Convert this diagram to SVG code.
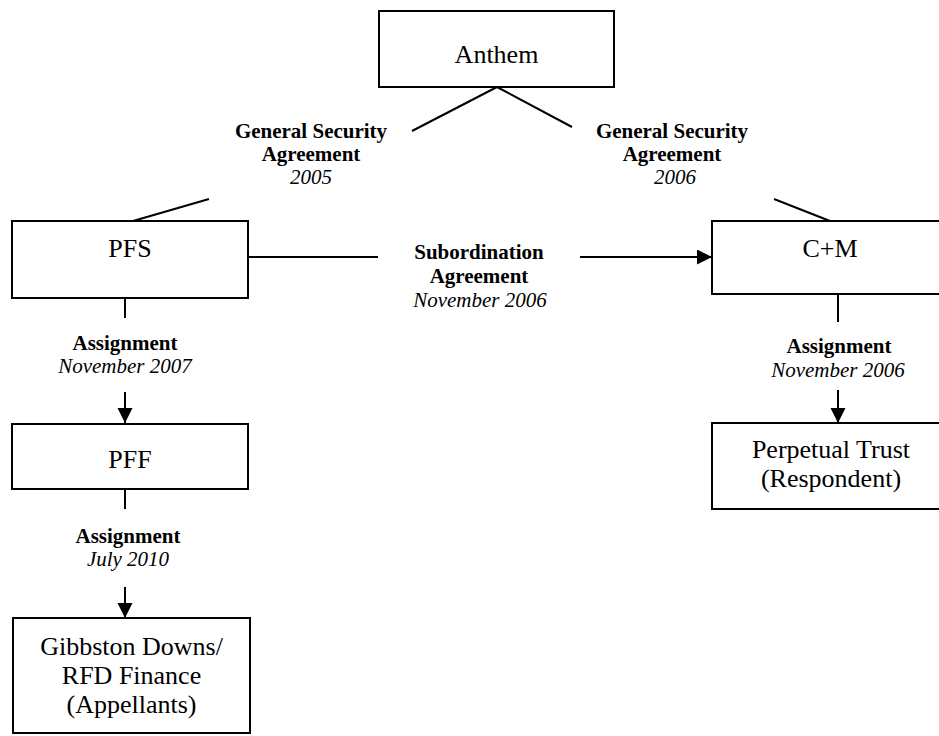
<svg xmlns="http://www.w3.org/2000/svg" width="939" height="736" viewBox="0 0 939 736">
<style>
.box{fill:#fff;stroke:#000;stroke-width:2}
.node{font-family:"Liberation Serif","Times New Roman",serif;font-size:26px;fill:#000;text-anchor:middle}
.lbl{font-family:"Liberation Serif","Times New Roman",serif;font-size:21px;fill:#000;text-anchor:middle}
.b{font-weight:bold}
.i{font-style:italic}
.ln{stroke:#000;stroke-width:2;fill:none}
</style>
<defs>
<marker id="arr" markerUnits="userSpaceOnUse" markerWidth="16" markerHeight="16" refX="15" refY="7.5" orient="auto">
<path d="M0,0 L15,7.5 L0,15 z" fill="#000"/>
</marker>
</defs>
<rect width="939" height="736" fill="#fff"/>
<g id="connectors">
<line class="ln" x1="497" y1="87" x2="412" y2="131"/>
<line class="ln" x1="497" y1="87" x2="572" y2="127"/>
<line class="ln" x1="133" y1="221" x2="209" y2="199"/>
<line class="ln" x1="774" y1="199" x2="830" y2="221"/>
<line class="ln" x1="248" y1="257" x2="378" y2="257"/>
<line class="ln" x1="580" y1="257" x2="712" y2="257" marker-end="url(#arr)"/>
<line class="ln" x1="125" y1="298" x2="125" y2="318"/>
<line class="ln" x1="125" y1="392" x2="125" y2="423" marker-end="url(#arr)"/>
<line class="ln" x1="125" y1="489" x2="125" y2="509"/>
<line class="ln" x1="125" y1="587" x2="125" y2="618" marker-end="url(#arr)"/>
<line class="ln" x1="838" y1="294" x2="838" y2="322"/>
<line class="ln" x1="838" y1="390" x2="838" y2="423" marker-end="url(#arr)"/>
<text class="lbl b" x="311" y="138">General Security</text>
<text class="lbl b" x="311" y="161">Agreement</text>
<text class="lbl i" x="311" y="184">2005</text>
<text class="lbl b" x="672" y="138">General Security</text>
<text class="lbl b" x="672" y="161">Agreement</text>
<text class="lbl i" x="675" y="184">2006</text>
<text class="lbl b" x="479" y="259">Subordination</text>
<text class="lbl b" x="479" y="283">Agreement</text>
<text class="lbl i" x="480" y="307">November 2006</text>
<text class="lbl b" x="125" y="350">Assignment</text>
<text class="lbl i" x="125" y="373">November 2007</text>
<text class="lbl b" x="128" y="543">Assignment</text>
<text class="lbl i" x="128" y="566">July 2010</text>
<text class="lbl b" x="839" y="353">Assignment</text>
<text class="lbl i" x="838" y="377">November 2006</text>
</g>
<g id="anthem">
<rect class="box" x="379" y="11" width="235" height="76"/>
<text class="node" x="496.5" y="63">Anthem</text>
</g>
<g id="pfs">
<rect class="box" x="12" y="221" width="236" height="77"/>
<text class="node" x="130" y="257">PFS</text>
</g>
<g id="cm">
<rect class="box" x="712" y="221" width="236" height="73"/>
<text class="node" x="830" y="257">C+M</text>
</g>
<g id="pff">
<rect class="box" x="12" y="424" width="236" height="65"/>
<text class="node" x="130" y="468">PFF</text>
</g>
<g id="perpetual">
<rect class="box" x="712" y="423" width="236" height="86"/>
<text class="node" x="831" y="458">Perpetual Trust</text>
<text class="node" x="831" y="487">(Respondent)</text>
</g>
<g id="gibbston">
<rect class="box" x="13" y="618" width="237" height="115"/>
<text class="node" x="131.5" y="655">Gibbston Downs/</text>
<text class="node" x="131.5" y="684">RFD Finance</text>
<text class="node" x="131.5" y="713">(Appellants)</text>
</g>
</svg>
